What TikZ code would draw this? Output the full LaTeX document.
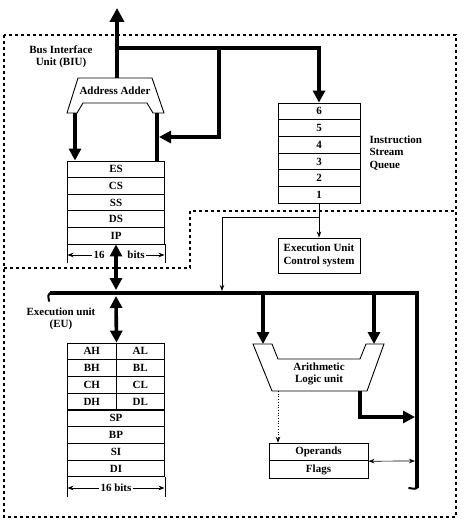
\documentclass[tikz,border=0pt]{standalone}
\usepackage{fontspec}
\setmainfont{Liberation Serif}
\usetikzlibrary{arrows.meta}
\begin{document}
\begin{tikzpicture}[x=1pt, y=-1pt, font=\fontsize{11}{12.5}\selectfont\bfseries]
	\tikzset{reg/.style={draw, line width=0.9pt, minimum width=97pt, minimum height=16.6pt, inner sep=0}}
	\tikzset{halfreg/.style={reg, minimum width=48.5pt}}
	\tikzset{bus/.style={line width=3.6pt}}
	\tikzset{busar/.style={bus, -{Triangle[length=12pt, width=12pt]}}}
	\tikzset{busboth/.style={bus, {Triangle[length=12pt, width=12pt]}-{Triangle[length=12pt, width=12pt]}}}
	\tikzset{ar/.style={-{Stealth[length=6pt, width=4.5pt]}, line width=0.7pt}}
	\tikzset{unit/.style={line width=1.3pt, dash pattern=on 3pt off 3pt}}
	\useasboundingbox (0,0) rectangle (464,521);
	\draw[unit] (4,35) rectangle (456,517);
	\draw[unit] (4,268) -- (190,268) -- (190,211) -- (456,211);
	\node[align=center] at (61,57) (biu) {Bus Interface\\Unit (BIU)};
	\node[align=center] at (61,319) (eu) {Execution unit\\(EU)};
	\node[align=left, anchor=west] at (366,153) (isq) {Instruction\\Stream\\Queue};
	\foreach \r [count=\i] in {ES,CS,SS,DS,IP}
		\node[reg] at (116, 152.7+16.6*\i) (\r) {\r};
	\foreach \q [count=\i] in {6,5,4,3,2,1}
		\node[reg, minimum width=82pt, minimum height=16.7pt] at (319, 94.65+16.7*\i) (Q\q) {\q};
	\foreach \h/\l [count=\i] in {AH/AL,BH/BL,CH/CL,DH/DL} {
		\node[halfreg] at (91.75, 334.6+16.75*\i) (\h) {\h};
		\node[halfreg] at (140.25, 334.6+16.75*\i) (\l) {\l};
	}
	\foreach \r [count=\i from 5] in {SP,BP,SI,DI}
		\node[reg] at (116, 334.6+16.75*\i) (\r) {\r};
	\node[reg, minimum width=82pt, minimum height=35pt, align=center] at (319,255.5) (EUC) {Execution Unit\\Control system};
	\node[reg, minimum width=99pt, minimum height=17.5pt] at (318.5,452) (OPR) {Operands};
	\node[reg, minimum width=99pt, minimum height=17.5pt] at (318.5,469.5) (FLG) {Flags};
	\draw[line width=0.9pt] (78,78) -- (152,78) -- (164,113) -- (153,113) -- (147,103) -- (83,103) -- (77,113) -- (67,113) -- cycle;
	\node at (115,91) (adder) {Address Adder};
	\draw[line width=0.9pt] (253,344) -- (272,344) -- (278,359) -- (360,359) -- (366,344) -- (384,344) -- (367,391) -- (272,391) -- cycle;
	\node[align=center] at (319,374) (alu) {Arithmetic\\Logic unit};
	\draw[line width=0.9pt] (IP.south west) -- ++(0,19) (IP.south east) -- ++(0,19);
	\draw[line width=0.9pt] (DI.south west) -- ++(0,20) (DI.south east) -- ++(0,20);
	\coordinate (sbl) at (67.5,255);
	\coordinate (sbr) at (164.5,255);
	\node[inner sep=1.5pt] at (99,255) (s16) {16};
	\node[inner sep=1.5pt] at (136,255) (sbits) {bits};
	\draw[ar] (s16) -- (sbl);
	\draw[ar] (sbits) -- (sbr);
	\coordinate (gbl) at (67.5,488);
	\coordinate (gbr) at (164.5,488);
	\node[inner sep=1.5pt] at (116,488) (gbits) {16 bits};
	\draw[ar] (gbits) -- (gbl);
	\draw[ar] (gbits) -- (gbr);
	\coordinate (cpu) at (117,8);
	\coordinate (adtop) at (117,78);
	\coordinate (tap) at (117,48);
	\coordinate (tap2) at (219,48);
	\coordinate (adL) at (75,113);
	\coordinate (adR) at (157,113);
	\coordinate (adRin) at (159,137);
	\draw[bus, -{Triangle[length=14pt, width=14pt]}] (adtop) -- (cpu);
	\draw[busar] (tap) -| (Q6.north);
	\draw[busar] (tap2) |- (adRin);
	\draw[busar] (adL) -- (adL |- ES.north);
	\draw[bus] (adR) -- (adR |- ES.north);
	\coordinate (qtap) at (319,217);
	\coordinate (euin) at (222,291);
	\draw[ar] (Q1.south) -- (EUC.north);
	\draw[ar] (qtap) -| (euin);
	\coordinate (busL) at (50,293);
	\coordinate (busC) at (417,293);
	\coordinate (busE) at (417,488);
	\coordinate (hookL) at (49,301);
	\coordinate (hookE) at (409,488);
	\draw[bus] (busL) -- (busC) -- (busE);
	\draw[line width=2pt, line cap=round] (busL) .. controls (48,295) .. (hookL);
	\draw[line width=2pt, line cap=round] (busE) .. controls (415,489) .. (hookE);
	\coordinate (bx1) at (116,290);
	\coordinate (bx2) at (116,296);
	\draw[busboth] (IP.south) -- (bx1);
	\draw[busboth] (bx2) -- (AH.north east);
	\coordinate (alA) at (263,293);
	\coordinate (alB) at (374,293);
	\coordinate (aluA) at (263,344);
	\coordinate (aluB) at (374,344);
	\draw[busar] (alA) -- (aluA);
	\draw[busar] (alB) -- (aluB);
	\coordinate (aluout) at (360,391);
	\coordinate (busin) at (415,417);
	\draw[busar] (aluout) |- (busin);
	\coordinate (aluflag) at (278,391);
	\draw[ar, dotted, line width=0.9pt] (aluflag) -- (aluflag |- OPR.north);
	\coordinate (busflag) at (415,461);
	\draw[ar, {Stealth[length=6pt, width=4.5pt]}-{Stealth[length=6pt, width=4.5pt]}] (OPR.south east) -- (busflag);
\end{tikzpicture}
\end{document}
